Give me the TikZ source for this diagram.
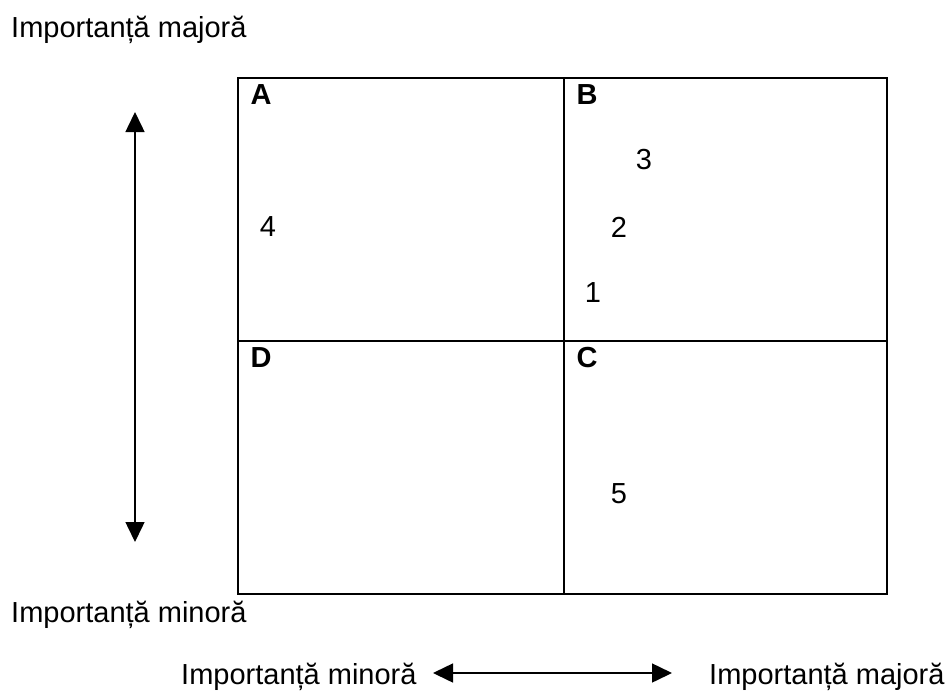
\documentclass[tikz,border=0pt]{standalone}
\usepackage{fontspec}
\setmainfont{Liberation Sans}
\usetikzlibrary{arrows.meta}
\tikzset{
  lbl/.style={inner sep=0pt, font=\fontsize{29}{34}\selectfont},
  quad/.style={inner sep=0pt, font=\fontsize{29}{34}\selectfont\bfseries},
  grid/.style={line width=2pt},
  axis/.style={line width=1.5pt, {Triangle[length=20pt,width=19pt]}-{Triangle[length=20pt,width=19pt]}}
}
\begin{document}
\begin{tikzpicture}[x=1pt,y=-1pt]
\useasboundingbox (0,0) rectangle (948,691);
% texts
\node[lbl, anchor=base west] (tmaj) at (11,37) {Importanță majoră};
\node[lbl, anchor=base west] (tmin) at (11,622) {Importanță minoră};
\node[lbl, anchor=base west] (bmin) at (181,684) {Importanță minoră};
\node[lbl, anchor=base west] (bmaj) at (709,684) {Importanță majoră};
% grid
\draw[grid] (238,78) rectangle (887,594);
\draw[grid] (564,78) -- (564,594);
\draw[grid] (238,341) -- (887,341);
% quadrant labels
\node[quad] (A) at (261,95) {A};
\node[quad] (B) at (587,95) {B};
\node[quad] (D) at (261,358) {D};
\node[quad] (C) at (587,358) {C};
% numbers
\node[lbl] (n3) at (644,160) {3};
\node[lbl] (n2) at (619,227) {2};
\node[lbl] (n4) at (268,227) {4};
\node[lbl] (n1) at (593,293) {1};
\node[lbl] (n5) at (619,494) {5};
% arrows
\coordinate (vt) at (135,112);
\coordinate (vb) at (135,542);
\draw[axis] (vt) -- (vb);
\coordinate (hl) at (433,673);
\coordinate (hr) at (672,673);
\draw[axis] (hl) -- (hr);
\end{tikzpicture}
\end{document}
